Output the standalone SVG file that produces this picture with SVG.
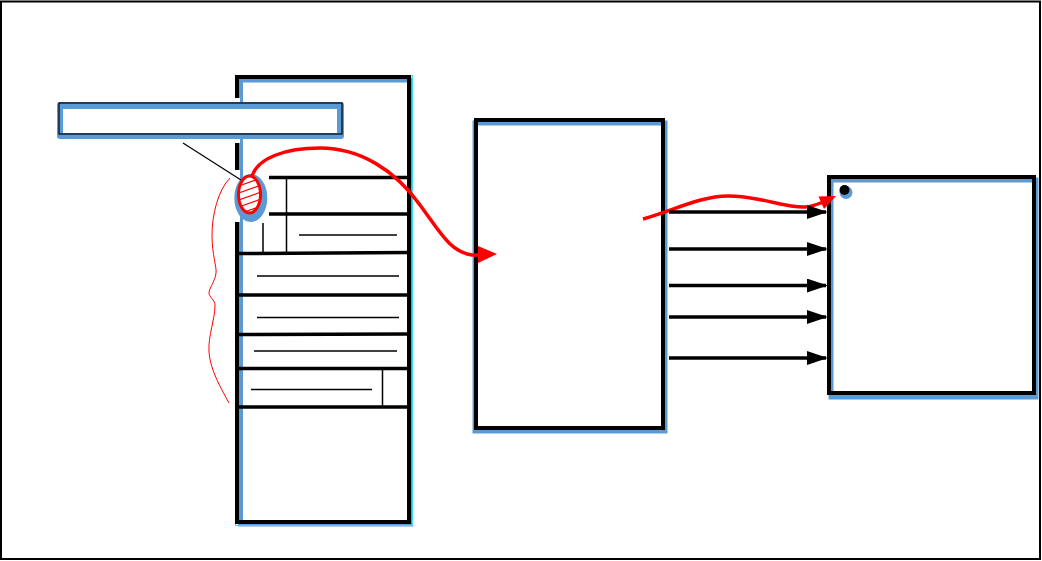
<svg xmlns="http://www.w3.org/2000/svg" width="1042" height="561" viewBox="0 0 1042 561">
<style>
.blue{fill:none;stroke:#5b9bd5;stroke-width:5}
.cyan{fill:none;stroke:#33e0f0;stroke-width:1}
.frame{fill:none;stroke:#000;stroke-width:4}
.sep{stroke:#000;stroke-width:3.5}
.thin{stroke:#000;stroke-width:1.5}
.arr{stroke:#000;stroke-width:3.5;fill:none}
.red{fill:none;stroke:#ff0000;stroke-width:3.5}
</style>
<defs>
<marker id="ah" markerWidth="6" markerHeight="4" refX="5.5" refY="2" orient="auto" markerUnits="strokeWidth"><path d="M0,0 L6,2 L0,4 Z" fill="#000"/></marker>
<clipPath id="ec"><ellipse cx="249.5" cy="194.5" rx="10" ry="17.5"/></clipPath>
</defs>
<rect x="0" y="0" width="1042" height="561" fill="#fff"/>
<rect x="1" y="1.5" width="1039" height="557.5" fill="none" stroke="#000" stroke-width="2"/>

<g id="left-box">
<rect x="237" y="77" width="173" height="446" fill="#fff"/>
<rect x="240.5" y="80" width="170" height="444" class="blue"/>
<rect x="235.5" y="75.5" width="177" height="450" class="cyan"/>
<rect x="237" y="77" width="172" height="445" class="frame"/>
<line x1="269" y1="177.5" x2="410" y2="177.5" class="sep"/>
<line x1="269" y1="214" x2="410" y2="214" class="sep"/>
<line x1="239" y1="253.5" x2="410" y2="252.5" class="sep"/>
<line x1="239" y1="295" x2="410" y2="295" class="sep"/>
<line x1="239" y1="334.5" x2="410" y2="334" class="sep"/>
<line x1="239" y1="368.5" x2="410" y2="368.5" class="sep"/>
<line x1="239" y1="407" x2="410" y2="407" class="sep"/>
<line x1="286.5" y1="177" x2="286.5" y2="252" class="thin"/>
<line x1="263" y1="223" x2="263" y2="252" class="thin"/>
<line x1="299" y1="235" x2="397" y2="235" class="thin"/>
<line x1="257" y1="276" x2="399" y2="276" class="thin"/>
<line x1="257" y1="317.5" x2="399" y2="317.5" class="thin"/>
<line x1="254" y1="351" x2="397" y2="351" class="thin"/>
<line x1="251" y1="389.5" x2="372" y2="389.5" class="thin"/>
<line x1="382.5" y1="368" x2="382.5" y2="407" class="thin"/>
<rect x="232" y="170" width="8" height="52" fill="#fff"/>
<rect x="232" y="98" width="8" height="45" fill="#fff"/>
</g>

<g id="label-bar">
<rect x="57" y="102" width="287" height="37" rx="3" fill="#5b9bd5"/>
<rect x="63" y="109" width="274" height="24" fill="#fff"/>
<rect x="59" y="103" width="283" height="31" fill="none" stroke="#000" stroke-width="1.2"/>
</g>

<g id="mid-box">
<rect x="476" y="120" width="187" height="308" fill="#fff"/>
<rect x="475" y="123" width="190" height="308" class="blue"/>
<rect x="476" y="120" width="187" height="308" class="frame"/>
</g>

<g id="right-box">
<rect x="829" y="177" width="206" height="216" fill="#fff"/>
<rect x="831" y="180" width="205" height="217" class="blue"/>
<rect x="829" y="177" width="205" height="216" class="frame"/>
<circle cx="846" cy="192.5" r="6.5" fill="#5b9bd5"/>
<circle cx="844.5" cy="190" r="5" fill="#000"/>
</g>

<g id="marker-ellipse">
<ellipse cx="250.8" cy="198" rx="16.5" ry="24" fill="#5b9bd5"/>
<ellipse cx="249.5" cy="194.5" rx="11" ry="18.5" fill="#fff"/>
<g clip-path="url(#ec)" stroke="#ff0000" stroke-width="1.2">
<line x1="236" y1="187" x2="264" y2="177"/>
<line x1="236" y1="194" x2="264" y2="184"/>
<line x1="236" y1="201" x2="264" y2="191"/>
<line x1="236" y1="208" x2="264" y2="198"/>
<line x1="236" y1="215" x2="264" y2="205"/>
<line x1="236" y1="222" x2="264" y2="212"/>
</g>
<ellipse cx="249.5" cy="194.5" rx="11" ry="18.5" fill="none" stroke="#ff0000" stroke-width="3"/>
</g>

<g id="connectors">
<line x1="183" y1="143" x2="241" y2="180" stroke="#000" stroke-width="1.2"/>
<path d="M230,178 C218,190 212,215 212,235 C212,255 217,268 216,273 C215,282 209,288 209,293 C209,297 215,300 215,305 C215,320 208,335 209,352 C210,370 222,390 229,403" fill="none" stroke="#ff0000" stroke-width="1"/>
<path d="M252,176 C258,158 285,148 320,148 C360,148 395,170 420,205 C440,232 450,252 472,255 L482,255" class="red"/>
<path d="M478,246 L497,254 L478,263 Z" fill="#ff0000"/>
<path d="M643,219 C670,212 700,196 728,196 C760,196 785,208 805,207 C812,206.5 817,204.5 822,202.5" class="red"/>
<path d="M818.5,196.5 L836,196 L824,209 Z" fill="#ff0000"/>
<line x1="669" y1="212" x2="826" y2="212" class="arr" marker-end="url(#ah)"/>
<line x1="669" y1="249" x2="826" y2="249" class="arr" marker-end="url(#ah)"/>
<line x1="669" y1="285.5" x2="826" y2="285.5" class="arr" marker-end="url(#ah)"/>
<line x1="669" y1="317" x2="826" y2="317" class="arr" marker-end="url(#ah)"/>
<line x1="669" y1="358" x2="826" y2="358" class="arr" marker-end="url(#ah)"/>
</g>
</svg>
